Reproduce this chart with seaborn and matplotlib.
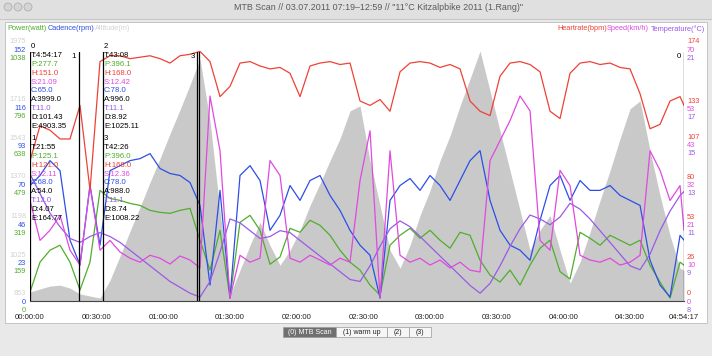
import matplotlib
matplotlib.use("Agg")
import matplotlib.pyplot as plt
import matplotlib.transforms as mtransforms
from matplotlib.patches import Rectangle, Ellipse
import seaborn as sns

# ---- data (sample times in minutes) ----
minutes = [0, 4.5, 9, 13.5, 18, 22.5, 27, 31.5, 36, 40.5, 45, 49.5, 54, 58.5, 63, 67.5,
           72, 76.5, 81, 85.5, 90, 94.5, 99, 103.5, 108, 112.5, 117, 121.5, 126, 130.5,
           135, 139.5, 144, 148.5, 153, 157.5, 162, 166.5, 171, 175.5, 180, 184.5, 189,
           193.5, 198, 202.5, 207, 211.5, 216, 220.5, 225, 229.5, 234, 238.5, 243, 247.5,
           252, 256.5, 261, 265.5, 270, 274.5, 279, 283.5, 288, 292.5, 294.28]

altitude = [893, 906, 919, 923, 910, 884, 875, 866,
            945, 1051, 1161, 1267, 1377, 1482, 1592, 1698, 1808, 1922,
            1649, 1253, 879, 989, 1099, 1201, 1099, 1011, 1077, 1165,
            1275, 1372, 1473, 1570, 1693, 1715, 1473, 1275, 1077, 998,
            1099, 1231, 1341, 1473, 1583, 1715, 1834, 1957, 1781, 1605,
            1429, 1253, 1077, 1165, 1231, 1077, 932, 1025, 1157, 1297,
            1429, 1570, 1702, 1737, 1517, 1319, 1143, 998,
            989]

heartrate = [96, 120, 117, 111, 111, 134, 76, 164,
             168, 168, 166, 167, 168, 166, 163, 168, 169, 171,
             164, 140, 147, 163, 164, 161, 159, 160, 156, 140,
             161, 163, 164, 162, 163, 137, 134, 138, 130, 157,
             163, 164, 163, 160, 162, 159, 137, 130, 127, 154,
             163, 164, 162, 157, 130, 125, 156, 163, 164, 162,
             163, 160, 159, 142, 118, 121, 137, 140,
             134]

speed = [27.7, 16.7, 19.5, 23.6, 14.0, 9.9, 31.8, 14.0,
         16.7, 13.5, 11.8, 10.7, 12.6, 11.8, 10.2, 12.4, 11.3, 9.1,
         56.5, 41.4, 0.8, 12.6, 10.7, 11.8, 38.7, 34.6, 11.8, 10.7,
         12.6, 11.3, 9.9, 11.8, 10.7, 33.2, 46.9, 0.8, 41.4, 12.6,
         10.7, 11.8, 9.9, 11.3, 9.1, 10.7, 8.5, 8.0, 38.7, 44.2,
         49.7, 56.5, 52.4, 16.7, 14.0, 36.0, 31.8, 12.6, 11.3, 10.7,
         11.8, 9.9, 10.7, 12.6, 41.4, 36.0, 27.7, 31.8,
         19.5]

temperature = [14.5, 13.5, 12.5, 11.8, 11.2, 11.0, 11.3, 11.5,
               11.3, 11.0, 10.6, 10.2, 9.8, 9.4, 9.0, 8.7, 8.4, 8.2,
               9.0, 10.5, 12.2, 12.0, 11.6, 11.2, 11.3, 11.6, 11.5, 11.1,
               10.7, 10.3, 9.9, 9.5, 9.1, 9.0, 9.8, 10.8, 11.7, 12.1,
               11.8, 11.3, 10.8, 10.3, 9.8, 9.3, 8.8, 8.4, 8.9, 9.8,
               10.8, 11.7, 12.4, 12.2, 11.9, 12.3, 13.0, 12.7, 12.2, 11.6,
               11.0, 10.4, 9.8, 9.6, 10.4, 11.6, 12.6, 13.4,
               13.6]

cadence = [69.1, 75.1, 84.0, 78.0, 36.4, 21.5, 69.1, 33.4,
           78.0, 81.0, 84.0, 85.2, 88.2, 79.3, 76.3, 75.1, 70.9, 57.2,
           9.5, 66.2, 1.8, 75.1, 81.0, 72.1, 42.3, 51.3, 69.1, 60.2,
           72.1, 75.1, 63.2, 54.2, 42.3, 33.4, 27.4, 1.8, 60.2, 69.1,
           73.3, 66.2, 75.1, 69.1, 60.2, 72.1, 84.0, 90.0, 60.2, 42.3,
           33.4, 30.4, 24.4, 48.3, 69.1, 75.1, 60.2, 72.1, 66.2, 66.2,
           69.1, 63.2, 60.2, 57.2, 24.4, 9.5, 2.4, 39.3,
           36.4]

power = [36.6, 158.7, 207.6, 227.9, 158.7, 44.8, 158.7, 451.8,
         419.2, 411.1, 398.9, 390.7, 370.4, 362.2, 358.2, 370.4, 378.5, 248.3,
         126.2, 289.0, 12.2, 321.5, 350.0, 289.0, 150.0, 180.0, 297.1, 280.8,
         329.7, 309.3, 268.6, 207.6, 158.7, 126.2, 65.1, 24.4, 227.9, 268.6,
         297.1, 256.4, 289.0, 248.3, 215.7, 280.8, 268.6, 166.9, 105.8, 77.3,
         126.2, 65.1, 146.5, 215.7, 248.3, 120.0, 90.0, 280.8, 256.4, 227.9,
         268.6, 248.3, 227.9, 248.3, 146.5, 77.3, 12.2, 158.7,
         146.5]

time_ticks = [0, 30, 60, 90, 120, 150, 180, 210, 240, 270, 294.28]
time_labels = ["00:00:00", "00:30:00", "01:00:00", "01:30:00", "02:00:00", "02:30:00",
               "03:00:00", "03:30:00", "04:00:00", "04:30:00", "04:54:17"]

cadence_ticks = [0, 23, 46, 70, 93, 116, 152]
power_ticks = [0, 159, 319, 479, 638, 796, 1038]
altitude_ticks = [853, 1025, 1198, 1370, 1543, 1716, 1975]
hr_ticks = [0, 26, 53, 80, 107, 133, 174]
speed_ticks = [0, 10, 21, 32, 43, 53, 70]
temp_ticks = [8, 9, 11, 13, 15, 17, 21]

# laps
lap_ids = ["0", "1", "2", "3"]
lap_start = [0.0, 0.0, 32.9, 32.9]
lap_end = [294.28, 21.92, 76.03, 75.33]
lap_time = ["4:54:17", "21:55", "43:08", "42:26"]
lap_power = [277.7, 125.1, 396.1, 396.0]
lap_hr = [151.0, 121.0, 168.0, 168.0]
lap_speed = [21.09, 12.11, 12.42, 12.36]
lap_cad = [65.0, 68.0, 78.0, 78.0]
lap_ascent = [3999.0, 54.0, 996.0, 988.0]
lap_temp = [11.0, 12.0, 11.1, 11.1]
lap_dist = [101.43, 4.07, 8.92, 8.74]
lap_energy = [4903.35, 164.77, 1025.11, 1008.22]

C_POWER = "#4fae2c"
C_CAD = "#2d4fe6"
C_ALT = "#d2d2d2"
C_FILL = "#c9c9c9"
C_HR = "#ee4236"
C_SPD = "#df4ae0"
C_TMP = "#9a5ae6"

sns.set_style("white")
plt.rcParams["font.family"] = ["Liberation Sans", "DejaVu Sans"]

W, H = 712, 356


def fx(x):
    return x / W


def fy(y):
    return 1 - y / H


fig = plt.figure(figsize=(W / 100, H / 100), dpi=100, facecolor="#e9e9e9")


def box(x0, y0, x1, y1, **kw):
    fig.patches.append(Rectangle((fx(x0), fy(y1)), (x1 - x0) / W, (y1 - y0) / H,
                                 transform=fig.transFigure, **kw))


# window chrome
box(0, 0, W, 19, facecolor="#e0e0e0", edgecolor="none", zorder=-5)
box(0, 19, W, 20, facecolor="#c6c6c6", edgecolor="none", zorder=-5)
box(5, 22, 707, 323, facecolor="white", edgecolor="#bdbdbd", lw=0.6, zorder=-4)
for cx in [8, 18, 28]:
    fig.patches.append(Ellipse((fx(cx), fy(7)), 8 / W, 8 / H, transform=fig.transFigure,
                               facecolor="#d4d4d4", edgecolor="#a8a8a8", lw=0.5, zorder=-3))
fig.text(fx(378), fy(7), 'MTB Scan // 03.07.2011 07:19\u201312:59 // "11\u00b0C Kitzalpbike 2011 (1.Rang)"',
         ha="center", va="center", fontsize=6.4, color="#5a5a5a")

# legends
for txt, x, c in [("Power(watt)", 7, C_POWER), ("Cadence(rpm)", 48, C_CAD), ("Altitude(m)", 95, C_ALT)]:
    fig.text(fx(x), fy(29), txt, ha="left", va="center", fontsize=5.3, color=c)
for txt, x, c in [("Heartrate(bpm)", 557, C_HR), ("Speed(km/h)", 607, C_SPD), ("Temperature(\u00b0C)", 651, C_TMP)]:
    fig.text(fx(x), fy(29), txt, ha="left", va="center", fontsize=5.3, color=c)

# segmented control
segments = [("(0) MTB Scan", 283, 336, True), ("(1) warm up", 336, 387, False),
            ("(2)", 387, 409, False), ("(3)", 409, 431, False)]
for txt, x0, x1, sel in segments:
    box(x0, 327, x1, 337, facecolor="#707070" if sel else "#f6f6f6",
        edgecolor="#9a9a9a", lw=0.5, zorder=-2)
    fig.text(fx((x0 + x1) / 2), fy(332), txt, ha="center", va="center", fontsize=5.0,
             color="white" if sel else "#222222")

# plot area
rect = [fx(30), fy(301), 654 / W, 254 / H]
x_max = time_ticks[-1]

ax = fig.add_axes(rect)
ax.set_facecolor("none")
ax.fill_between(minutes, altitude_ticks[0], altitude, color=C_FILL, lw=0)
ax.set_xlim(0, x_max)
ax.set_ylim(altitude_ticks[0], altitude_ticks[-1])
ax.set_yticks([])
ax.set_xticks(time_ticks, time_labels)
ax.tick_params(axis="x", direction="in", length=3, width=0.6, color="#555555",
               labelsize=5.6, pad=9.5, labelcolor="#222222")
for s in ["top", "left", "right"]:
    ax.spines[s].set_visible(False)
ax.spines["bottom"].set_color("#444444")
ax.spines["bottom"].set_linewidth(0.8)


def overlay(values, lo, hi, color):
    a = fig.add_axes(rect, sharex=ax)
    a.set_facecolor("none")
    sns.lineplot(x=minutes, y=values, ax=a, color=color, linewidth=0.9,
                 estimator=None, sort=False, legend=False)
    a.set_ylim(lo, hi)
    a.set_xlim(0, x_max)
    a.axis("off")
    return a


ax_pow = overlay(power, power_ticks[0], power_ticks[-1], C_POWER)
ax_cad = overlay(cadence, cadence_ticks[0], cadence_ticks[-1], C_CAD)
ax_tmp = overlay(temperature, temp_ticks[0], temp_ticks[-1], C_TMP)
ax_spd = overlay(speed, speed_ticks[0], speed_ticks[-1], C_SPD)
ax_hr = overlay(heartrate, hr_ticks[0], hr_ticks[-1], C_HR)

# lap markers
ax_lap = fig.add_axes(rect, sharex=ax)
ax_lap.set_facecolor("none")
ax_lap.set_ylim(0, 1)
ax_lap.set_xlim(0, x_max)
ax_lap.axis("off")
top_frac = (301 - 52) / 254
for t in sorted(set(lap_start + lap_end)):
    ax_lap.axvline(t, ymin=0, ymax=top_frac, color="black", lw=0.9)

# stacked axis labels
PX = 72 / 100
n = len(cadence_ticks)
left_tr = mtransforms.blended_transform_factory(ax.transAxes, ax_cad.transData)
right_tr = mtransforms.blended_transform_factory(ax.transAxes, ax_spd.transData)
for i in range(n):
    shift = -3 if i == n - 1 else -1
    for txt, dy, c in [(str(altitude_ticks[i]), 8.5, C_ALT), (str(cadence_ticks[i]), 0, C_CAD),
                       (str(power_ticks[i]), -8, C_POWER)]:
        ax.annotate(txt, xy=(-0.006, cadence_ticks[i]), xycoords=left_tr,
                    xytext=(0, (dy + shift) * PX), textcoords="offset points",
                    ha="right", va="center", fontsize=5.3, color=c, annotation_clip=False)
    for txt, dy, c in [(str(hr_ticks[i]), 8.5, C_HR), (str(speed_ticks[i]), 0, C_SPD),
                       (str(temp_ticks[i]), -8, C_TMP)]:
        ax.annotate(txt, xy=(1.0046, speed_ticks[i]), xycoords=right_tr,
                    xytext=(0, (dy + shift) * PX), textcoords="offset points",
                    ha="left", va="center", fontsize=5.3, color=c, annotation_clip=False)

# lap info blocks
anchors = [(31, 47), (31, 139), (104, 47), (104, 139)]
step = 8.8
for k, (bx, by) in enumerate(anchors):
    rows = [(lap_ids[k], "black"),
            ("T:" + lap_time[k], "black"),
            ("P:%.1f" % lap_power[k], C_POWER),
            ("H:%.1f" % lap_hr[k], C_HR),
            ("S:%.2f" % lap_speed[k], C_SPD),
            ("C:%.1f" % lap_cad[k], C_CAD),
            ("A:%.1f" % lap_ascent[k], "black"),
            ("T:%.1f" % lap_temp[k], C_TMP),
            ("D:%.2f" % lap_dist[k], "black"),
            ("E:%.2f" % lap_energy[k], "black")]
    for j, (txt, c) in enumerate(rows):
        fig.text(fx(bx), fy(by + j * step), txt, ha="left", va="center",
                 fontsize=5.6, color=c, zorder=5)

# end-of-lap labels
for lab, x in [("1", 76), ("3", 195), ("0", 681)]:
    fig.text(fx(x), fy(56), lab, ha="right", va="center", fontsize=5.6, color="black", zorder=5)

fig.savefig("out.png", dpi=100, facecolor=fig.get_facecolor())
